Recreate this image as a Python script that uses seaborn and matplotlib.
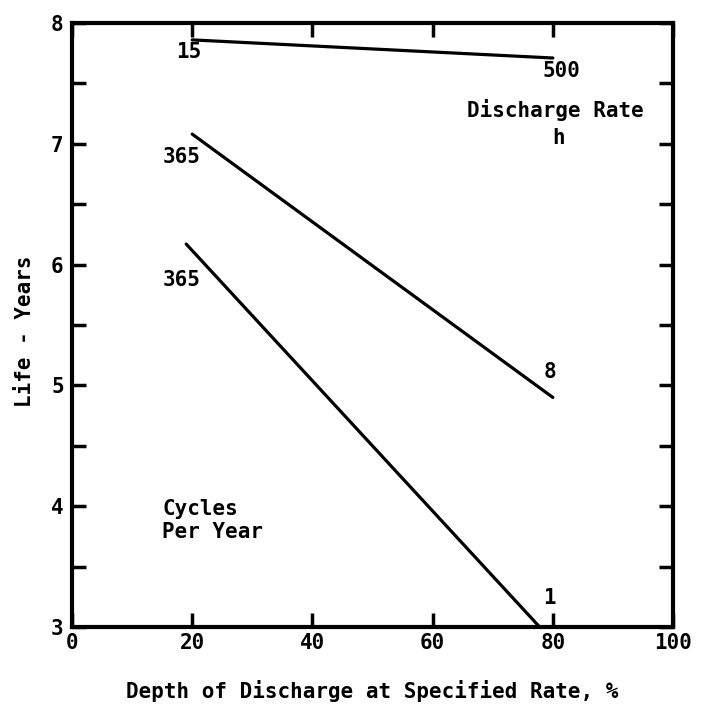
import matplotlib
matplotlib.use("Agg")
import matplotlib.pyplot as plt
import numpy as np
import pandas as pd
import seaborn as sns

# Battery life versus depth of discharge
depth_pct = [20, 80]
life_15cyc_500h = [7.86, 7.71]
life_365cyc_8h = [7.08, 4.90]
depth_365cyc_1h = [19, 77.8]
life_365cyc_1h = [6.17, 3.00]

x_ticks = [0, 20, 40, 60, 80, 100]
y_ticks = [3, 4, 5, 6, 7, 8]

sns.set_theme(style="ticks")
plt.rcParams["font.family"] = ["DejaVu Sans Mono", "DejaVu Sans"]
plt.rcParams.update({"text.color": "black", "axes.labelcolor": "black",
                     "xtick.color": "black", "ytick.color": "black"})

df = pd.concat([
    pd.DataFrame({"depth": depth_pct, "life": life_15cyc_500h, "curve": "15/500"}),
    pd.DataFrame({"depth": depth_pct, "life": life_365cyc_8h, "curve": "365/8"}),
    pd.DataFrame({"depth": depth_365cyc_1h, "life": life_365cyc_1h, "curve": "365/1"}),
], ignore_index=True)

fig = plt.figure(figsize=(7.10, 7.09), dpi=100)
ax = fig.add_axes([0.1014, 0.1157, 0.8466, 0.8519])

sns.lineplot(data=df, x="depth", y="life", hue="curve", units="curve",
             estimator=None, palette=["black"] * 3, legend=False,
             linewidth=2.3, ax=ax)

ax.set_xlim(0, 100)
ax.set_ylim(3, 8)
ax.set_xticks(x_ticks)
ax.set_yticks(y_ticks)
ax.set_yticks(np.arange(3.5, 8, 1.0), minor=True)
ax.set_xticklabels([str(v) for v in x_ticks], fontsize=15, fontweight="bold")
ax.set_yticklabels([str(v) for v in y_ticks], fontsize=15, fontweight="bold")

for side in ["left", "right", "top", "bottom"]:
    ax.spines[side].set_linewidth(3.0)
    ax.spines[side].set_color("black")

ax.tick_params(axis="both", which="both", direction="in", color="black",
               labelcolor="black", top=True, right=True, length=10, width=2.5)
ax.tick_params(axis="x", which="major", pad=4)
ax.tick_params(axis="y", which="both", pad=6)

ax.set_xlabel("Depth of Discharge at Specified Rate, %", fontsize=15,
              fontweight="bold", labelpad=20)
ax.set_ylabel("Life - Years", fontsize=15, fontweight="bold")
ax.yaxis.set_label_coords(-0.062, 0.49)

txt = dict(fontsize=15, fontweight="bold", color="black", ha="center", va="center")
ax.text(19.5, 7.76, "15", **txt)
ax.text(81.5, 7.60, "500", **txt)
ax.text(80.4, 7.28, "Discharge Rate", **txt)
ax.text(81.0, 7.05, "h", **txt)
ax.text(18.3, 6.89, "365", **txt)
ax.text(18.3, 5.87, "365", **txt)
ax.text(79.5, 5.11, "8", **txt)
ax.text(79.5, 3.24, "1", **txt)
ax.text(15.0, 3.88, "Cycles\nPer Year", fontsize=15, fontweight="bold",
        color="black", ha="left", va="center", linespacing=1.15)

fig.savefig("out.png", dpi=100, facecolor="white")
